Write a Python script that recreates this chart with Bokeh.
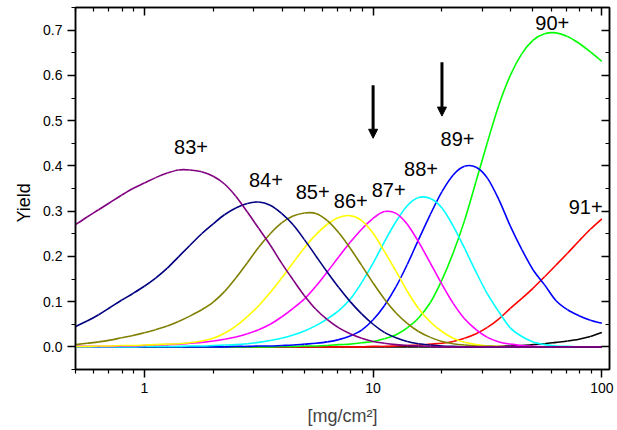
import math
from bokeh.plotting import figure
from bokeh.models import (LogAxis, LinearAxis, FixedTicker, NumeralTickFormatter,
                          CustomJSTickFormatter, Range1d, Title, Arrow, NormalHead)
from bokeh.embed import file_html
from bokeh.resources import INLINE
from bokeh.core.properties import value

# ---------------- data ----------------
thickness = [0.5, 0.562, 0.631, 0.708, 0.794, 0.891, 1.0, 1.12, 1.26, 1.41, 1.58, 1.78,
             2.0, 2.24, 2.51, 2.82, 3.16, 3.55, 3.98, 4.47, 5.01, 5.62, 6.31, 7.08, 7.94,
             8.91, 10.0, 11.2, 12.6, 14.1, 15.8, 17.8, 20.0, 22.4, 25.1, 28.2, 31.6, 35.5,
             39.8, 44.7, 50.1, 56.2, 63.1, 70.8, 79.4, 89.1, 100.0]

q83 = [0.270, 0.287, 0.303, 0.319, 0.335, 0.350, 0.362, 0.374, 0.384, 0.391, 0.391, 0.387,
       0.377, 0.360, 0.333, 0.298, 0.262, 0.225, 0.185, 0.148, 0.113, 0.083, 0.060, 0.042,
       0.029, 0.019, 0.012, 0.008, 0.005, 0.003, 0.002, 0.001,
       0, 0, 0, 0, 0, 0, 0, 0, 0, 0, 0, 0, 0, 0, 0]
q84 = [0.045, 0.057, 0.071, 0.087, 0.103, 0.118, 0.134, 0.152, 0.174, 0.199, 0.224, 0.250,
       0.272, 0.292, 0.307, 0.317, 0.320,
       0.313, 0.295, 0.270, 0.237, 0.201, 0.165, 0.131, 0.100, 0.073, 0.050, 0.032, 0.020,
       0.012, 0.007, 0.004, 0.002, 0.001,
       0, 0, 0, 0, 0, 0, 0, 0, 0, 0, 0, 0, 0]
q85 = [0.005, 0.008, 0.011, 0.015, 0.020, 0.025, 0.031, 0.038, 0.046, 0.056, 0.068, 0.082,
       0.099, 0.122, 0.152, 0.186, 0.220, 0.250, 0.274, 0.289, 0.296, 0.295,
       0.279, 0.252, 0.218, 0.180, 0.141, 0.106, 0.075, 0.052, 0.034, 0.021, 0.012, 0.007,
       0.004, 0.002, 0.001,
       0, 0, 0, 0, 0, 0, 0, 0, 0, 0]
q86 = [0.001, 0.001, 0.002, 0.002, 0.003, 0.003, 0.004, 0.005, 0.006, 0.007, 0.009, 0.013,
       0.019, 0.030, 0.046,
       0.067, 0.091, 0.120, 0.152, 0.186, 0.219, 0.248, 0.271, 0.286, 0.290,
       0.279, 0.251, 0.211, 0.167, 0.123, 0.085, 0.055, 0.034, 0.019, 0.010, 0.005, 0.002,
       0.001,
       0, 0, 0, 0, 0, 0, 0, 0, 0]
q87 = [0.001, 0.001, 0.001, 0.001, 0.002, 0.002,
       0.003, 0.004, 0.005, 0.006, 0.008, 0.010, 0.013, 0.017, 0.022, 0.029, 0.038, 0.050,
       0.066, 0.085, 0.106, 0.134, 0.166, 0.199, 0.231, 0.260, 0.284, 0.299,
       0.295, 0.271, 0.232, 0.185, 0.138, 0.096, 0.062, 0.038, 0.021, 0.011, 0.006, 0.003,
       0.001,
       0, 0, 0, 0, 0, 0]
q88 = [0, 0, 0, 0, 0, 0,
       0.001, 0.001, 0.001, 0.001,
       0.002, 0.002, 0.003, 0.004, 0.005, 0.007, 0.010, 0.014, 0.019, 0.026, 0.035, 0.047,
       0.062, 0.080,
       0.105, 0.142, 0.185, 0.232, 0.277, 0.312, 0.330, 0.328, 0.307, 0.267, 0.218, 0.165,
       0.117, 0.077,
       0.042, 0.023, 0.011, 0.005, 0.002, 0.001,
       0, 0, 0]
q89 = [0, 0, 0, 0, 0, 0, 0, 0, 0, 0, 0, 0, 0, 0,
       0.001, 0.001, 0.002, 0.002, 0.003, 0.004, 0.006, 0.008, 0.011,
       0.016, 0.024, 0.037, 0.060, 0.091, 0.133, 0.182, 0.237, 0.293, 0.343, 0.380, 0.399,
       0.397,
       0.373, 0.325, 0.267, 0.215, 0.170, 0.137, 0.102, 0.082, 0.069, 0.059, 0.052]
q90 = [0, 0, 0, 0, 0, 0, 0, 0, 0, 0, 0, 0, 0, 0, 0, 0, 0, 0,
       0.001, 0.001, 0.002, 0.002, 0.003, 0.005, 0.006, 0.009,
       0.012, 0.018, 0.027, 0.042, 0.064, 0.098, 0.148, 0.208, 0.279, 0.366, 0.452, 0.535,
       0.600, 0.648, 0.678, 0.692, 0.694, 0.686, 0.671, 0.652, 0.631]
q91 = [0, 0, 0, 0, 0, 0, 0, 0, 0, 0, 0, 0, 0, 0, 0, 0, 0, 0, 0, 0, 0, 0, 0, 0, 0, 0,
       0.001, 0.001, 0.002, 0.003, 0.004, 0.006, 0.008, 0.012, 0.019, 0.029, 0.043, 0.062,
       0.085, 0.107, 0.130, 0.155, 0.181, 0.207, 0.234, 0.260, 0.283]
q92 = [0, 0, 0, 0, 0, 0, 0, 0, 0, 0, 0, 0, 0, 0, 0, 0, 0, 0, 0, 0, 0, 0, 0, 0, 0, 0,
       0, 0, 0, 0, 0, 0, 0, 0, 0, 0,
       0.001, 0.001, 0.002, 0.003, 0.005, 0.007, 0.010, 0.013, 0.017, 0.023, 0.032]

series_names = ["92+", "91+", "90+", "89+", "88+", "87+", "86+", "85+", "84+", "83+"]
series_values = [q92, q91, q90, q89, q88, q87, q86, q85, q84, q83]
series_colors = ["#000000", "#FF0000", "#00FF00", "#0000FF", "#00FFFF", "#FF00FF",
                 "#FFFF00", "#808000", "#000080", "#800080"]

label_text = ["83+", "84+", "85+", "86+", "87+", "88+", "89+", "90+", "91+"]
label_x = [1.60, 3.40, 5.44, 7.99, 11.7, 16.2, 23.4, 60.7, 84.9]
label_y = [0.441, 0.368, 0.342, 0.322, 0.347, 0.394, 0.460, 0.716, 0.309]

arrow_x = [10.0, 20.0]
arrow_y_start = [0.578, 0.629]
arrow_y_end = [0.461, 0.510]

x_major = [1, 10, 100]
x_minor = [0.5, 0.6, 0.7, 0.8, 0.9, 2, 3, 4, 5, 6, 7, 8, 9,
           20, 30, 40, 50, 60, 70, 80, 90]
y_major = [0.0, 0.1, 0.2, 0.3, 0.4, 0.5, 0.6, 0.7]
y_minor = [-0.05, 0.05, 0.15, 0.25, 0.35, 0.45, 0.55, 0.65, 0.75]

FONT = "Liberation Sans"

# ---------------- figure ----------------
p = figure(width=617, height=430, x_axis_type="log",
           x_range=Range1d(0.5, 108), y_range=Range1d(-0.05, 0.75),
           output_backend="svg", toolbar_location=None,
           min_border_left=75, min_border_right=8, min_border_top=7, min_border_bottom=61)
p.background_fill_color = "white"
p.border_fill_color = "white"
p.outline_line_color = "black"
p.outline_line_width = 1.5
p.xgrid.grid_line_color = None
p.ygrid.grid_line_color = None

# smooth drawing of each series: cubic Bezier segments through the read points
# (control points from neighbouring points, in log-x space)
for name, ys, col in zip(series_names, series_values, series_colors):
    lx = [math.log10(v) for v in thickness]
    n = len(lx)
    x0s, y0s, x1s, y1s, cx0, cy0, cx1, cy1 = [], [], [], [], [], [], [], []
    for i in range(n - 1):
        im = max(i - 1, 0)
        ip = min(i + 2, n - 1)
        c0x = lx[i] + (lx[i + 1] - lx[im]) / 6.0
        c0y = ys[i] + (ys[i + 1] - ys[im]) / 6.0
        c1x = lx[i + 1] - (lx[ip] - lx[i]) / 6.0
        c1y = ys[i + 1] - (ys[ip] - ys[i]) / 6.0
        x0s.append(thickness[i]); y0s.append(ys[i])
        x1s.append(thickness[i + 1]); y1s.append(ys[i + 1])
        cx0.append(10 ** c0x); cy0.append(c0y)
        cx1.append(10 ** c1x); cy1.append(c1y)
    p.bezier(x0=x0s, y0=y0s, x1=x1s, y1=y1s, cx0=cx0, cy0=cy0, cx1=cx1, cy1=cy1,
             line_color=col, line_width=1.6)

p.text(x=label_x, y=label_y, text=label_text, text_align="center",
       text_baseline="middle", text_font=value(FONT), text_font_size=value("20px"),
       text_color="black")

for ax, y0, y1 in zip(arrow_x, arrow_y_start, arrow_y_end):
    p.add_layout(Arrow(end=NormalHead(size=9, fill_color="black", line_color="black"),
                       x_start=ax, y_start=y0, x_end=ax, y_end=y1,
                       line_width=3, line_color="black"))


def style_axis(a, inward, show_labels):
    a.axis_line_color = "black"
    a.axis_line_width = 1.5
    a.major_tick_line_color = "black"
    a.minor_tick_line_color = "black"
    a.major_tick_line_width = 1.5
    a.minor_tick_line_width = 1.2
    if inward:
        a.major_tick_in, a.major_tick_out = 8, 0
        a.minor_tick_in, a.minor_tick_out = 4, 0
    else:
        a.major_tick_in, a.major_tick_out = 0, 8
        a.minor_tick_in, a.minor_tick_out = 0, 4
    a.major_label_text_font = FONT
    a.major_label_text_color = "black"
    if show_labels:
        a.major_label_text_font_size = "14px"
        a.major_label_standoff = 5
    else:
        a.formatter = CustomJSTickFormatter(code="return ' ';")
        a.major_label_text_font_size = "1px"
        a.major_label_standoff = 0


xb = p.xaxis[0]
xb.ticker = FixedTicker(ticks=x_major, minor_ticks=x_minor)
xb.formatter = NumeralTickFormatter(format="0")
style_axis(xb, False, True)
xb.axis_label = "[mg/cm\u00b2]"
xb.axis_label_text_font = FONT
xb.axis_label_text_font_size = "18px"
xb.axis_label_text_font_style = "normal"
xb.axis_label_standoff = 10

yl = p.yaxis[0]
yl.ticker = FixedTicker(ticks=y_major, minor_ticks=y_minor)
yl.formatter = NumeralTickFormatter(format="0.0")
style_axis(yl, False, True)

top = LogAxis(ticker=FixedTicker(ticks=x_major, minor_ticks=x_minor))
style_axis(top, True, False)
p.add_layout(top, "above")

right = LinearAxis(ticker=FixedTicker(ticks=y_major, minor_ticks=y_minor))
style_axis(right, True, False)
p.add_layout(right, "right")

p.add_layout(Title(text="Yield", align="left", offset=147, standoff=13,
                   text_font=FONT, text_font_size="18px", text_font_style="normal",
                   text_color="black"), "left")

open("out.html", "w").write(file_html(p, INLINE))
